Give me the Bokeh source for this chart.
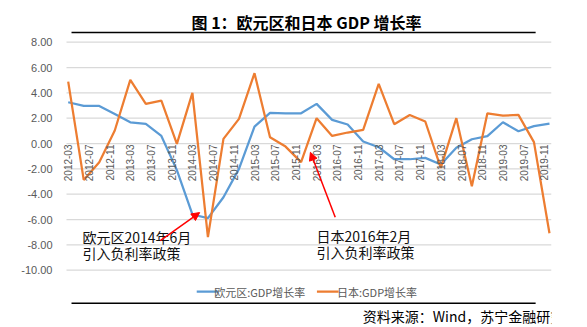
import math
from bokeh.plotting import figure
from bokeh.layouts import column
from bokeh.models import (Range1d, FixedTicker, NumeralTickFormatter, Label, Arrow, NormalHead)
from bokeh.core.properties import value
from bokeh.embed import file_html
from bokeh.resources import INLINE

# ---- data (quarterly, months counted from 2012-03) ----
quarter_labels = ["2012-03", "2012-06", "2012-09", "2012-12", "2013-03", "2013-06", "2013-09", "2013-12",
                  "2014-03", "2014-06", "2014-09", "2014-12", "2015-03", "2015-06", "2015-09", "2015-12",
                  "2016-03", "2016-06", "2016-09", "2016-12", "2017-03", "2017-06", "2017-09", "2017-12",
                  "2018-03", "2018-06", "2018-09", "2018-12", "2019-03", "2019-06", "2019-09", "2019-12"]
quarter_months = [3 * i for i in range(len(quarter_labels))]
euro_gdp = [3.26, 2.97, 2.97, 2.34, 1.68, 1.55, 0.60, -2.10, -5.60, -5.89, -4.24, -2.00,
            1.34, 2.42, 2.39, 2.39, 3.13, 1.87, 1.50, 0.16, -0.29, -1.24, -1.24, -1.13,
            -1.66, -0.34, 0.34, 0.58, 1.68, 0.97, 1.37, 1.58]
japan_gdp = [4.89, -2.87, -1.47, 1.03, 5.02, 3.13, 3.39, -0.03, 4.00, -7.39, 0.37, 1.95,
             5.55, 0.50, -0.24, -1.47, 2.00, 0.60, 0.87, 1.08, 4.71, 1.53, 2.26, 1.74,
             -1.92, 2.00, -3.37, 2.39, 2.21, 2.26, 0.11, -7.08]
tick_labels = ["2012-03", "2012-07", "2012-11", "2013-03", "2013-07", "2013-11", "2014-03", "2014-07",
               "2014-11", "2015-03", "2015-07", "2015-11", "2016-03", "2016-07", "2016-11", "2017-03",
               "2017-07", "2017-11", "2018-03", "2018-07", "2018-11", "2019-03", "2019-07", "2019-11"]
tick_months = [4 * i for i in range(len(tick_labels))]
y_ticks = [-10, -8, -6, -4, -2, 0, 2, 4, 6, 8]
series_names = ["欧元区:GDP增长率", "日本:GDP增长率"]
title_text = "图 1：欧元区和日本 GDP 增长率"
source_text = "资料来源：Wind，苏宁金融研究院"

BLUE = "#5B9BD5"
ORANGE = "#ED7D31"
GRAY = "#595959"
GRID = "#D9D9D9"
CJK = "Noto Sans CJK SC"
W = 587


def blank(height):
    f = figure(width=W, height=height, output_backend="svg", toolbar_location=None,
               x_range=Range1d(0, W), y_range=Range1d(height, 0),
               min_border=0, min_border_left=0, min_border_right=0,
               min_border_top=0, min_border_bottom=0)
    f.axis.visible = False
    f.grid.visible = False
    f.outline_line_color = None
    f.background_fill_color = "white"
    f.border_fill_color = "white"
    return f


def strip_text(fig, x, y, text, size, style="normal", color="#000000"):
    fig.text(x=[x], y=[y], text=[text], text_align="center", text_baseline="middle",
             text_font_size=size, text_font_style=style, text_font=value(CJK), text_color=color)


# ---- top strip: title + rule ----
top = blank(34)
top.segment(x0=[12], y0=[32], x1=[568], y1=[32], line_color="black", line_width=1.5)
strip_text(top, 293.5, 21, title_text, "16px", style="bold")

# ---- main chart ----
x_lo, x_hi = -1.295, 93.39          # plot-area extent in months
g_lo = -0.33                         # where the gridlines start
p = figure(width=W, height=246, output_backend="svg", toolbar_location=None,
           x_range=Range1d(x_lo, x_hi), y_range=Range1d(-10.18, 8.134),
           min_border_left=61, min_border_right=36, min_border_top=6, min_border_bottom=8)
p.outline_line_color = None
p.background_fill_color = "white"
p.border_fill_color = "white"

p.xaxis.visible = False
p.grid.visible = False
p.yaxis.ticker = FixedTicker(ticks=y_ticks)
p.yaxis.formatter = NumeralTickFormatter(format="0.00")
p.yaxis.axis_line_color = None
p.yaxis.major_tick_line_color = None
p.yaxis.minor_tick_line_color = None
p.yaxis.major_tick_out = 0
p.yaxis.major_tick_in = 0
p.yaxis.major_label_standoff = 9
p.yaxis.major_label_text_font_size = "11px"
p.yaxis.major_label_text_color = GRAY
p.yaxis.major_label_text_font = "Liberation Sans"

# horizontal gridlines at the y ticks
p.segment(x0=[g_lo] * len(y_ticks), y0=y_ticks, x1=[x_hi] * len(y_ticks), y1=y_ticks,
          line_color=GRID, line_width=1.3)

r_eu = p.line(quarter_months, euro_gdp, line_color=BLUE, line_width=2.25)
r_jp = p.line(quarter_months, japan_gdp, line_color=ORANGE, line_width=2.25)

# category labels next to the zero line
p.text(x=tick_months, y=[0] * len(tick_months), text=tick_labels, angle=math.pi / 2,
       text_align="right", text_baseline="middle", y_offset=1,
       text_font_size="10px", text_color=GRAY, text_font=value("Liberation Sans"))


def canvas_label(fig, x, y, text, size="14px", align="left", color="#111111"):
    fig.add_layout(Label(x=x, y=y, x_units="canvas", y_units="canvas", text=text,
                         text_font_size=size, text_align=align, text_baseline="middle",
                         text_font=CJK, text_color=color))


canvas_label(p, 82, 202, "欧元区2014年6月")
canvas_label(p, 82, 218, "引入负利率政策")
canvas_label(p, 316, 201, "日本2016年2月")
canvas_label(p, 316, 217, "引入负利率政策")

p.add_layout(Arrow(end=NormalHead(size=8, fill_color="red", line_color="red"),
                   x_start=17.8, y_start=-7.66, x_end=25.4, y_end=-5.45,
                   line_color="red", line_width=1.5))
p.add_layout(Arrow(end=NormalHead(size=8, fill_color="red", line_color="red"),
                   x_start=51.6, y_start=-5.82, x_end=46.8, y_end=-0.69,
                   line_color="red", line_width=1.5))

# ---- bottom strip: legend + rule + source ----
bot = blank(47)
bot.segment(x0=[162, 306], y0=[11, 11], x1=[188, 332], y1=[11, 11],
            line_color=[BLUE, ORANGE], line_width=2.25)
bot.segment(x0=[12], y0=[22.75], x1=[568], y1=[22.75], line_color="black", line_width=1.5)
strip_text(bot, 237.5, 11, series_names[0], "11px", color=GRAY)
strip_text(bot, 378, 11, series_names[1], "11px", color=GRAY)
canvas_label(bot, 470, 35, source_text, size="14px", align="center", color="#000000")

layout = column(top, p, bot, spacing=0)
open("out.html", "w").write(file_html(layout, INLINE))
